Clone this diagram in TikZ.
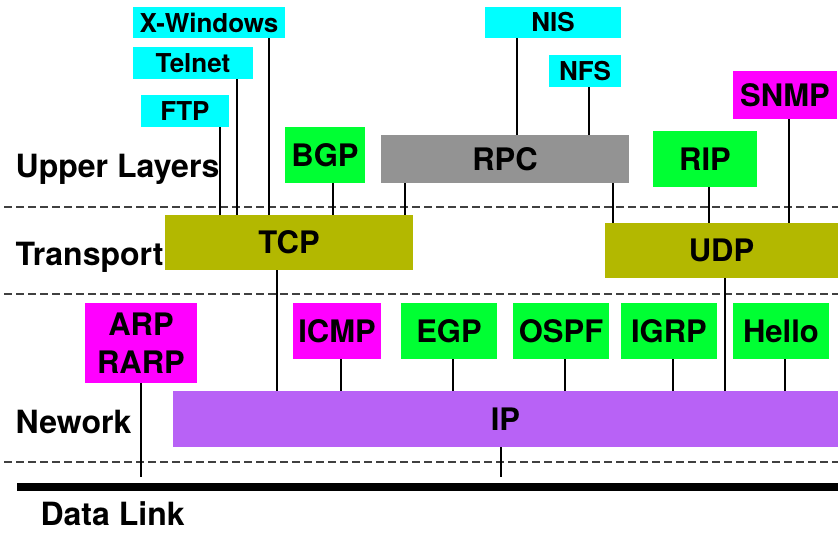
\documentclass[tikz,border=0pt]{standalone}
\usepackage{fontspec}
\setmainfont{TeX Gyre Heros}
\usepackage{tikz}
\usepackage{xcolor}

\definecolor{appcyan}{HTML}{00FFFF}
\definecolor{routegreen}{HTML}{00FF33}
\definecolor{ctrlmagenta}{HTML}{FF00FF}
\definecolor{rpcgray}{HTML}{939393}
\definecolor{transolive}{HTML}{B3B800}
\definecolor{ippurple}{HTML}{B862F6}

\begin{document}
\begin{tikzpicture}[
			x=1pt, y=-1pt,
			Proto/.style={inner sep=0pt, outer sep=0pt, align=center,
				font=\bfseries\fontsize{31}{38}\selectfont},
			AppBox/.style={Proto, fill=appcyan, minimum height=32,
				font=\bfseries\fontsize{26}{30}\selectfont},
			RouteBox/.style={Proto, fill=routegreen, minimum height=56},
			CtrlBox/.style={Proto, fill=ctrlmagenta},
			Layer/.style={anchor=base west, font=\bfseries\fontsize{32}{36}\selectfont},
			Link/.style={line width=2.8pt},
			Divider/.style={draw=black!75, line width=1.3pt, dash pattern=on 8pt off 4pt},
			]
			\useasboundingbox (0,0) rectangle (838,533);
			% layer borders
			\draw [Divider] (4,207) -- (838,207);
			\draw [Divider] (4,294) -- (838,294);
			\draw [Divider] (4,462) -- (838,462);
			\coordinate (dlw) at (17,487);
			\coordinate (dle) at (838,487);
			\draw [line width=8pt] (dlw) -- (dle);
			
			\node [Layer] (upper) at (12,177) {Upper Layers};
			\node [Layer] (trans) at (12,265) {Transport};
			\node [Layer] (net) at (12,433) {Nework};
			\node [Layer] (link) at (37,525) {Data Link};
			
			\node [AppBox, minimum width=152, minimum height=31] (xwin) at (209,22.5) {X-Windows};
			\node [AppBox, minimum width=120] (telnet) at (193,63) {Telnet};
			\node [AppBox, minimum width=88] (ftp) at (185,111) {FTP};
			\node [AppBox, minimum width=136, minimum height=31] (nis) at (553,22.5) {NIS};
			\node [AppBox, minimum width=72] (nfs) at (585,71) {NFS};
			\node [RouteBox, minimum width=80] (bgp) at (325,155) {BGP};
			\node [Proto, fill=rpcgray, minimum width=248, minimum height=48] (rpc) at (505,159) {RPC};
			\node [RouteBox, minimum width=104] (rip) at (705,159) {RIP};
			\node [CtrlBox, minimum width=104, minimum height=48] (snmp) at (785,95) {SNMP};
			
			\node [Proto, fill=transolive, minimum width=248, minimum height=55] (tcp) at (289,242.5) {TCP};
			\node [Proto, fill=transolive, minimum width=233, minimum height=55] (udp) at (721.5,250.5) {UDP};
			
			\node [CtrlBox, minimum width=112, minimum height=80] (arp) at (141,343) {ARP\\RARP};
			\node [CtrlBox, minimum width=88, minimum height=56] (icmp) at (337,331) {ICMP};
			\node [RouteBox, minimum width=96] (egp) at (449,331) {EGP};
			\node [RouteBox, minimum width=96] (ospf) at (561,331) {OSPF};
			\node [RouteBox, minimum width=96] (igrp) at (669,331) {IGRP};
			\node [RouteBox, minimum width=96] (hello) at (781,331) {Hello};
			\node [Proto, fill=ippurple, minimum width=665, minimum height=56] (ip) at (505.5,419) {IP};
			
			\begin{scope}[Link]
				\draw ([xshift=-9pt]ftp.south east) -- ([xshift=-9pt]ftp.south east |- tcp.north);
				\draw ([xshift=-16pt]telnet.south east) -- ([xshift=-16pt]telnet.south east |- tcp.north);
				\draw ([xshift=-16pt]xwin.south east) -- ([xshift=-16pt]xwin.south east |- tcp.north);
				\draw ([xshift=8pt]bgp.south) -- ([xshift=8pt]bgp.south |- tcp.north);
				\draw ([xshift=24pt]rpc.south west) -- ([xshift=24pt]rpc.south west |- tcp.north);
				\draw ([xshift=32pt]nis.south west) -- ([xshift=32pt]nis.south west |- rpc.north);
				\draw ([xshift=4pt]nfs.south) -- ([xshift=4pt]nfs.south |- rpc.north);
				\draw ([xshift=-16pt]rpc.south east) -- ([xshift=-16pt]rpc.south east |- udp.north);
				\draw ([xshift=4pt]rip.south) -- ([xshift=4pt]rip.south |- udp.north);
				\draw ([xshift=4pt]snmp.south) -- ([xshift=4pt]snmp.south |- udp.north);
				\draw ([xshift=-12pt]tcp.south) -- ([xshift=-12pt]tcp.south |- ip.north);
				\draw ([xshift=3.5pt]udp.south) -- ([xshift=3.5pt]udp.south |- ip.north);
				\draw ([xshift=4pt]icmp.south) -- ([xshift=4pt]icmp.south |- ip.north);
				\draw ([xshift=4pt]egp.south) -- ([xshift=4pt]egp.south |- ip.north);
				\draw ([xshift=4pt]ospf.south) -- ([xshift=4pt]ospf.south |- ip.north);
				\draw ([xshift=4pt]igrp.south) -- ([xshift=4pt]igrp.south |- ip.north);
				\draw ([xshift=4pt]hello.south) -- ([xshift=4pt]hello.south |- ip.north);
				\draw [shorten >=10pt] (arp.south) -- (arp.south |- dlw);
				\draw [shorten >=10pt] ([xshift=-4.5pt]ip.south) -- ([xshift=-4.5pt]ip.south |- dlw);
			\end{scope}
		\end{tikzpicture}
\end{document}
